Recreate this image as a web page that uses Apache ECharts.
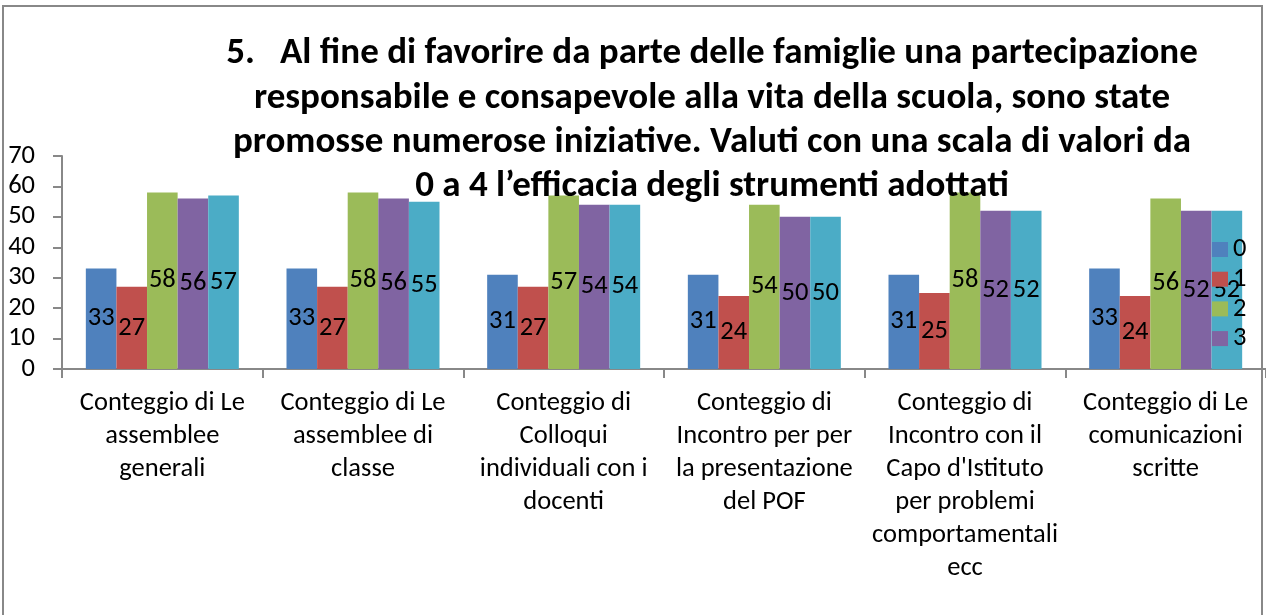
<!DOCTYPE html>
<html>
<head>
<meta charset="utf-8">
<script src="https://cdn.jsdelivr.net/npm/echarts@6/dist/echarts.min.js"></script>
<style>
  html, body { margin: 0; padding: 0; background: #fff; }
  #chart { width: 1266px; height: 615px; }
</style>
</head>
<body>
<div id="chart"></div>
<script>
// categorie (asse x)
var categories = [
  'Conteggio di Le\nassemblee\ngenerali',
  'Conteggio di Le\nassemblee di\nclasse',
  'Conteggio di\nColloqui\nindividuali con i\ndocenti',
  'Conteggio di\nIncontro per per\nla presentazione\ndel POF',
  'Conteggio di\nIncontro con il\nCapo d\'Istituto\nper problemi\ncomportamentali\necc',
  'Conteggio di Le\ncomunicazioni\nscritte'
];
// valori per punteggio 0..4
var val0 = [33, 33, 31, 31, 31, 33];
var val1 = [27, 27, 27, 24, 25, 24];
var val2 = [58, 58, 57, 54, 58, 56];
var val3 = [56, 56, 54, 50, 52, 52];
var val4 = [57, 55, 54, 50, 52, 52];
var seriesNames = ['0', '1', '2', '3', '4'];
var legendNames = ['0', '1', '2', '3'];
var colors = ['#4F81BD', '#C0504D', '#9BBB59', '#8064A2', '#4BACC6'];

var font = 'Carlito, Calibri, "Liberation Sans Narrow", "Open Sans", sans-serif';
var fs = 26.5;

var chart = echarts.init(document.getElementById('chart'));

function makeSeries(name, data, color) {
  return {
    name: name,
    type: 'bar',
    data: data,
    barWidth: 30.6,
    barGap: '0%',
    itemStyle: { color: color },
    label: {
      show: true,
      position: 'inside',
      color: '#000',
      fontSize: fs,
      fontFamily: font
    }
  };
}

var allData = [val0, val1, val2, val3, val4];
var series = [];
for (var i = 0; i < allData.length; i++) {
  series.push(makeSeries(seriesNames[i], allData[i], colors[i]));
}

var option = {
  animation: false,
  color: colors,
  title: {
    text: '5.   Al fine di favorire da parte delle famiglie una partecipazione\nresponsabile e consapevole alla vita della scuola, sono state\npromosse numerose iniziative. Valuti con una scala di valori da\n0 a 4 l\u2019efficacia degli strumenti adottati',
    left: 707,
    top: 27,
    textAlign: 'center',
    textStyle: {
      fontSize: 37,
      fontWeight: 'bold',
      fontFamily: font,
      color: '#000',
      lineHeight: 44.3
    }
  },
  legend: {
    data: legendNames,
    orient: 'vertical',
    left: 1207,
    top: 231,
    itemWidth: 16,
    itemHeight: 15,
    itemGap: 2.7,
    icon: 'rect',
    textStyle: { fontSize: fs, fontFamily: font, color: '#000' }
  },
  grid: {
    left: 62,
    top: 156,
    width: 1205,
    height: 213,
    containLabel: false
  },
  xAxis: {
    type: 'category',
    data: categories,
    axisLine: { lineStyle: { color: '#888', width: 2 } },
    axisTick: { show: true, length: 9, lineStyle: { color: '#888', width: 2 } },
    axisLabel: {
      interval: 0,
      color: '#000',
      fontSize: fs,
      fontFamily: font,
      lineHeight: 33,
      margin: 18
    }
  },
  yAxis: {
    type: 'value',
    min: 0,
    max: 70,
    interval: 10,
    axisLine: { show: true, lineStyle: { color: '#888', width: 2 } },
    axisTick: { show: true, length: 9, lineStyle: { color: '#888', width: 2 } },
    splitLine: { show: false },
    axisLabel: {
      color: '#000',
      fontSize: fs,
      fontFamily: font,
      margin: 27
    }
  },
  graphic: [{
    type: 'rect',
    shape: { x: 3, y: 6, width: 1259, height: 640 },
    style: { fill: 'none', stroke: '#888', lineWidth: 2 },
    silent: true
  }],
  series: series
};

chart.setOption(option);
</script>
</body>
</html>
